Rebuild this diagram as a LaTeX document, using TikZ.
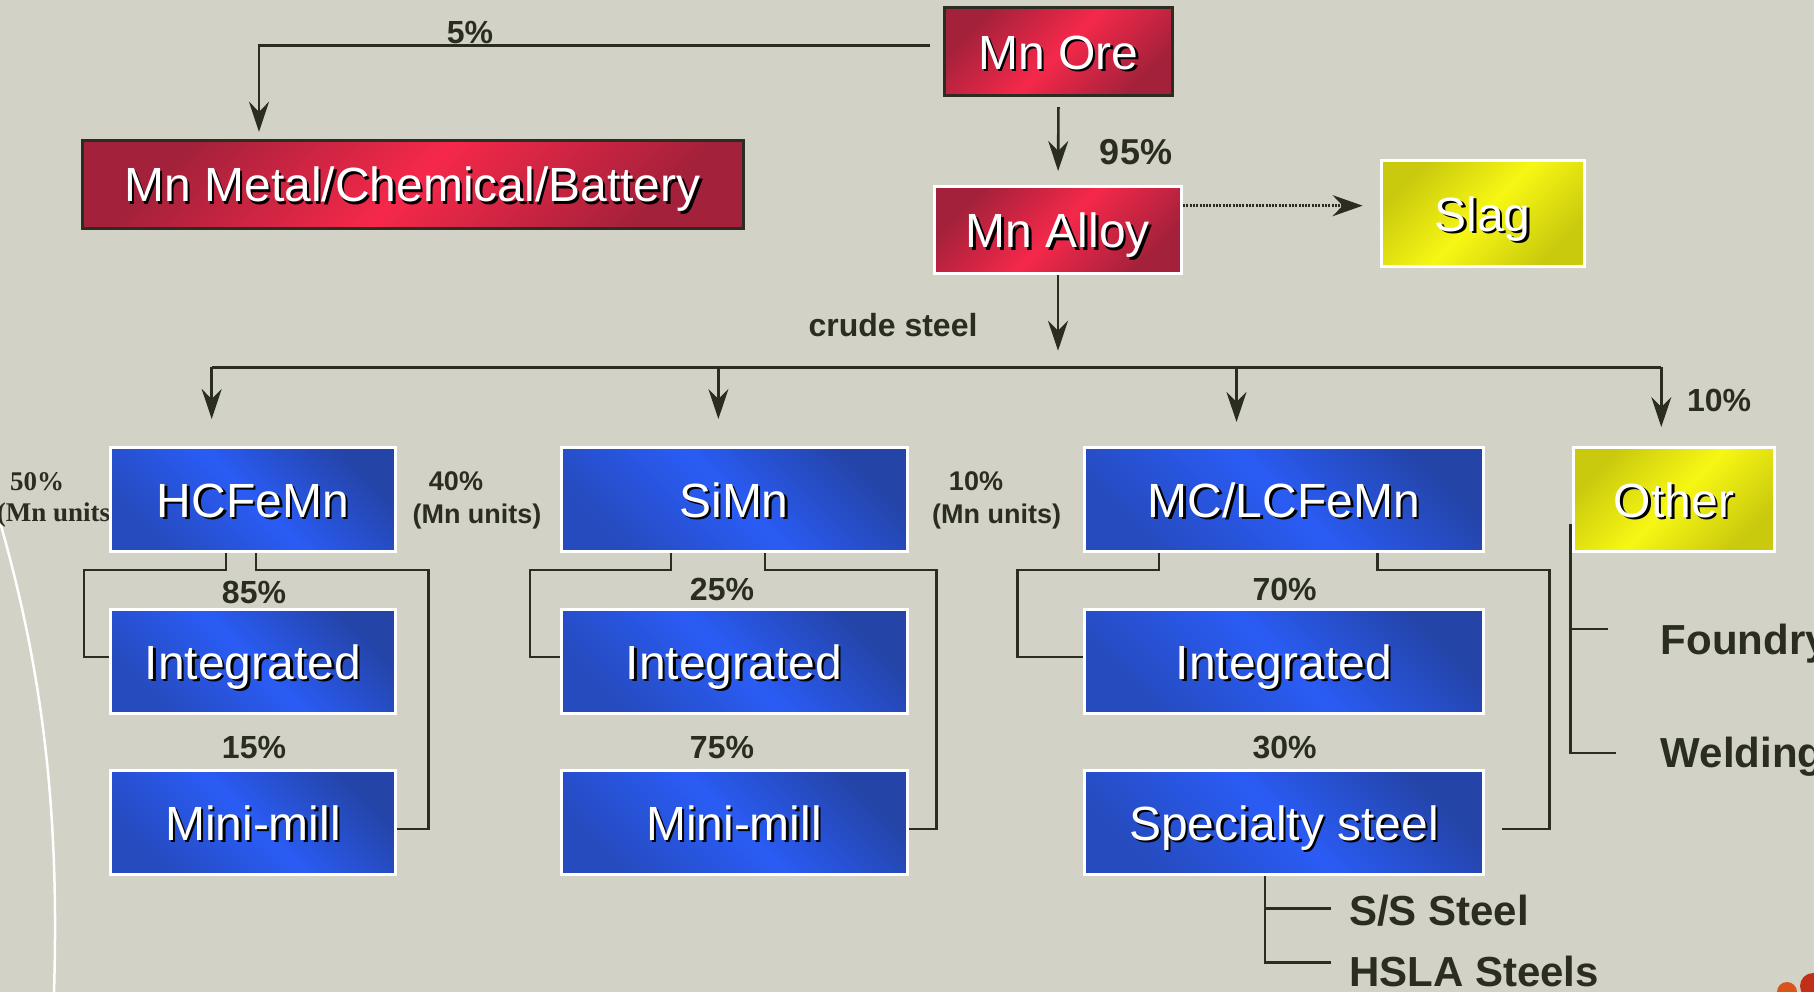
\documentclass[tikz,border=0pt]{standalone}
\usepackage{fontspec}
\setmainfont{Liberation Sans}
\newfontfamily\tnrfont{Liberation Serif}
\usetikzlibrary{arrows.meta,shadings}
\definecolor{bgc}{HTML}{D2D2C6}
\definecolor{ink}{HTML}{2B2D22}
\definecolor{redD}{HTML}{A3213A}
\definecolor{redB}{HTML}{F5284A}
\definecolor{blueD}{HTML}{2444A8}
\definecolor{blueB}{HTML}{2A5CF5}
\definecolor{yelD}{HTML}{C9C90E}
\definecolor{yelB}{HTML}{F7F714}
\definecolor{dotA}{HTML}{D9541A}
\definecolor{dotB}{HTML}{C03018}
\newcommand{\shtxt}[1]{\makebox[0pt][l]{\hspace{2.5pt}\raisebox{-2.5pt}{\color{black}#1}}{\color{white}#1}}
\tikzset{
  box/.style={draw=white, line width=3pt, inner sep=0pt, text height=35pt, text depth=0pt,
    font=\fontsize{48}{56}\selectfont, align=center},
  redbox/.style={box, top color=redD, bottom color=redD, middle color=redB, shading angle=45},
  darkred/.style={redbox, draw=ink},
  bluebox/.style={box, top color=blueD, bottom color=blueD!70!blueB, middle color=blueB, shading angle=-45},
  yelbox/.style={box, top color=yelD, bottom color=yelD, middle color=yelB, shading angle=45},
  conn/.style={draw=ink, line width=2.6pt},
  arr/.style={conn, -{Stealth[length=30pt,width=20pt,inset=10pt]}},
  dotarr/.style={draw=ink, line width=2.6pt, dash pattern=on 2pt off 1.3pt,
    -{Stealth[length=30pt,width=21pt,inset=10pt]}},
  lbl/.style={text=ink, inner sep=0pt, font=\bfseries\fontsize{32}{36}\selectfont},
  biglbl/.style={text=ink, inner sep=0pt, font=\bfseries\fontsize{36}{40}\selectfont},
  smlbl/.style={text=ink, inner sep=0pt, font=\bfseries\fontsize{27}{30}\selectfont},
  serlbl/.style={text=ink, inner sep=0pt, font=\tnrfont\bfseries\fontsize{27}{30}\selectfont},
  sublbl/.style={text=ink, inner sep=0pt, font=\bfseries\fontsize{42}{46}\selectfont},
}
\begin{document}
\begin{tikzpicture}[x=1pt,y=-1pt]
\fill[bgc] (0,0) rectangle (1814,992);
\useasboundingbox (0,0) rectangle (1814,992);

% decorations
\draw[white, line width=2.5pt] (-2,515) .. controls (40,660) and (60,800) .. (54,992);
\fill[dotA] (1787,992) circle (10pt);
\fill[dotB] (1813,986) circle (13pt);

% left labels (behind the HCFeMn box)
\node[serlbl, anchor=base] (p50) at (37,490) {50\%};
\node[serlbl, anchor=base] (u50) at (58,521.5) {(Mn units\textcolor{blueD}{)}};

% boxes
\node[darkred, minimum width=228pt, minimum height=88pt] (ore) at (1058.5,51.7) {\shtxt{Mn Ore}};
\node[darkred, minimum width=661pt, minimum height=88pt] (metal) at (412.5,184.3) {\shtxt{Mn Metal/Chemical/Battery}};
\node[redbox, minimum width=247pt, minimum height=87pt] (alloy) at (1058,230) {\shtxt{Mn Alloy}};
\node[yelbox, minimum width=203pt, minimum height=106pt] (slag) at (1482.6,213.8) {\shtxt{Slag}};

\node[bluebox, minimum width=285pt, minimum height=104pt] (hc) at (253,499.5) {\shtxt{HCFeMn}};
\node[bluebox, minimum width=346pt, minimum height=104pt] (si) at (734,499.5) {\shtxt{SiMn}};
\node[bluebox, minimum width=399pt, minimum height=104pt] (mc) at (1284,499.5) {\shtxt{MC/LCFeMn}};
\node[yelbox, minimum width=201pt, minimum height=104pt] (oth) at (1674,499.5) {\shtxt{Other}};

\node[bluebox, minimum width=285pt, minimum height=104pt] (int1) at (253,661.5) {\shtxt{Integrated}};
\node[bluebox, minimum width=346pt, minimum height=104pt] (int2) at (734,661.5) {\shtxt{Integrated}};
\node[bluebox, minimum width=399pt, minimum height=104pt] (int3) at (1284,661.5) {\shtxt{Integrated}};

\node[bluebox, minimum width=285pt, minimum height=104pt] (mm1) at (253,822.5) {\shtxt{Mini-mill}};
\node[bluebox, minimum width=346pt, minimum height=104pt] (mm2) at (734,822.5) {\shtxt{Mini-mill}};
\node[bluebox, minimum width=399pt, minimum height=104pt] (ss) at (1284,822.5) {\shtxt{Specialty steel}};

% top connectors
\draw[arr, shorten >=7pt] ([xshift=-13pt,yshift=6.4pt]ore.west) -| ([xshift=-153.5pt]metal.north);
\draw[arr, shorten <=10pt, shorten >=14pt] (ore.south) -- (alloy.north);
\draw[dotarr, shorten >=17pt] ([yshift=24.3pt]alloy.east) -- ([yshift=24.3pt]alloy.east -| slag.west);

% bus
\coordinate (b1) at (211.7,367.3);
\coordinate (b2) at (718.4,367.3);
\coordinate (b3) at (1236.5,367.3);
\coordinate (b4) at (1661.3,367.3);
\draw[arr, shorten >=16.6pt] (alloy.south) -- (alloy.south |- b1);
\draw[conn] (b1) -- (b4);
\draw[arr, shorten >=27pt] (b1) -- (b1 |- hc.north);
\draw[arr, shorten >=27pt] (b2) -- (b2 |- si.north);
\draw[arr, shorten >=24pt] (b3) -- (b3 |- mc.north);
\draw[arr, shorten >=19pt] (b4) -- (b4 |- oth.north);

% column connectors
\draw[conn] ([xshift=-27pt]hc.south) |- (84,570) |- ([yshift=4.5pt]int1.west);
\draw[conn] ([xshift=3pt]hc.south) |- (428.6,570) |- ([yshift=-6.5pt]mm1.east);
\draw[conn] ([xshift=-63pt]si.south) |- (530,570) |- ([yshift=4.5pt]int2.west);
\draw[conn] ([xshift=31pt]si.south) |- (936.7,570) |- ([yshift=-6.5pt]mm2.east);
\draw[conn] ([xshift=-125pt]mc.south) |- (1017.4,570) |- ([yshift=4.5pt]int3.west);
\draw[conn] ([xshift=93.5pt]mc.south) |- (1549.5,570) |- ([xshift=17pt,yshift=-6.5pt]ss.east);

% other branches
\coordinate (ofd) at (1608,629);
\coordinate (owd) at (1616,753);
\draw[conn] ([xshift=-1.5pt,yshift=-24.5pt]oth.west) |- (owd);
\draw[conn] ([xshift=-1.5pt]oth.west |- ofd) -- (ofd);
\node[sublbl, anchor=base west] (fd) at (1660.6,654) {Foundry};
\node[sublbl, anchor=base west] (wd) at (1660.6,767) {Welding};

% specialty branches
\coordinate (sst) at (1330.7,908.3);
\coordinate (hsl) at (1330.7,962.7);
\draw[conn] ([xshift=-19.2pt]ss.south) |- (hsl);
\draw[conn] ([xshift=-19.2pt]ss.south |- sst) -- (sst);
\node[sublbl, anchor=base west] (sstl) at (1349,925.7) {S/S Steel};
\node[sublbl, anchor=base west] (hsll) at (1349,986.7) {HSLA Steels};

% labels
\node[lbl, anchor=base] (l5) at (470,43.3) {5\%};
\node[biglbl, anchor=base] (l95) at (1136,165) {95\%};
\node[lbl, anchor=base] (lcs) at (893,336.7) {crude steel};
\node[lbl, anchor=base] (l10) at (1719,411.7) {10\%};
\node[smlbl, anchor=base] (p40) at (456,490) {40\%};
\node[smlbl, anchor=base] (u40) at (477,523) {(Mn units)};
\node[smlbl, anchor=base] (p10) at (976,490) {10\%};
\node[smlbl, anchor=base] (u10) at (996.6,523) {(Mn units)};
\node[lbl, anchor=base] (l85) at (254,603.3) {85\%};
\node[lbl, anchor=base] (l15) at (254,758.3) {15\%};
\node[lbl, anchor=base] (l25) at (722,600) {25\%};
\node[lbl, anchor=base] (l75) at (722,758) {75\%};
\node[lbl, anchor=base] (l70) at (1284.6,600) {70\%};
\node[lbl, anchor=base] (l30) at (1284.6,758) {30\%};
\end{tikzpicture}
\end{document}
